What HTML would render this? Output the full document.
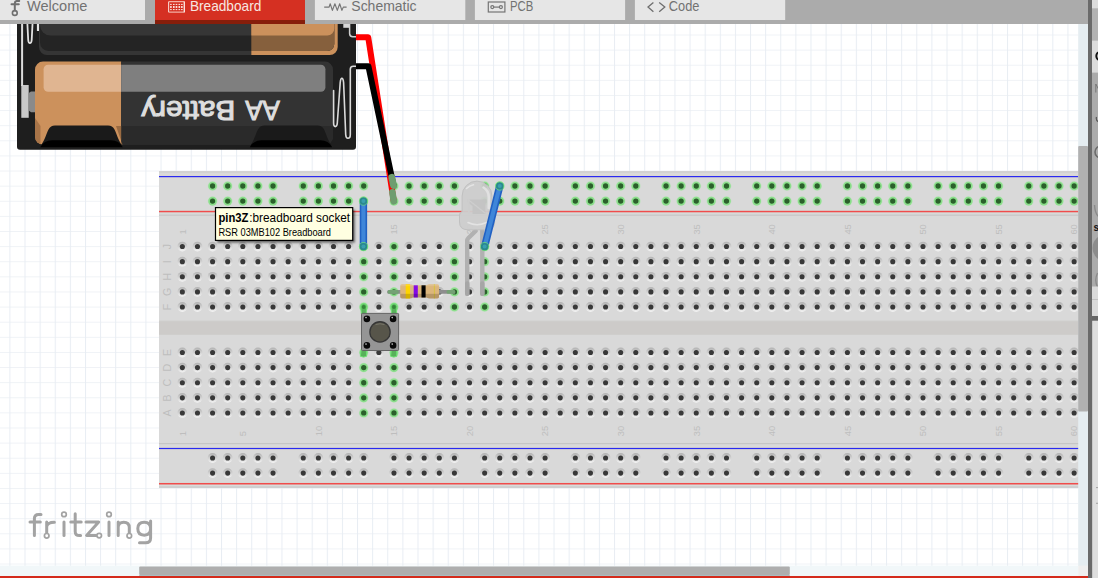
<!DOCTYPE html>
<html><head><meta charset="utf-8"><title>Fritzing</title>
<style>
html,body{margin:0;padding:0;}
body{width:1098px;height:578px;overflow:hidden;background:#fff;position:relative;font-family:"Liberation Sans",sans-serif;}
#canvas{position:absolute;left:0;top:0;width:1098px;height:578px;}
.abs{position:absolute;}
.tab{position:absolute;top:0;height:20px;background:#e6e6e6;color:#6e6e6e;font-size:13.5px;line-height:15px;white-space:nowrap;}
.tab span{position:absolute;top:-1px;}
#tip{position:absolute;left:215px;top:207px;width:136px;height:31.5px;border:1px solid #000;background:#ffffe1;box-shadow:1px 1px 1px rgba(0,0,0,.45);color:#000;white-space:nowrap;}
#tip .l1{position:absolute;left:2.4px;top:2px;font-size:11.6px;line-height:14px;letter-spacing:-0.1px;}
#tip .l2{position:absolute;left:2.4px;top:16.5px;font-size:9.6px;line-height:12px;}
</style></head><body>

<svg id="canvas" width="1098" height="578" viewBox="0 0 1098 578">
<defs>
<pattern id="grid" x="9.4" y="4.3" width="15.115" height="15.115" patternUnits="userSpaceOnUse"><path d="M0 0.5H15.115" stroke="#eff2f6" stroke-width="1" fill="none"/><path d="M0.5 0V15.115" stroke="#e8edf3" stroke-width="1" fill="none"/></pattern>
<linearGradient id="ring" x1="0" y1="0" x2="0" y2="1"><stop offset="0" stop-color="#b2b2b2"/><stop offset="0.5" stop-color="#d2d2d2"/><stop offset="1" stop-color="#f4f4f4"/></linearGradient>
<g id="h"><circle r="4.9" fill="url(#ring)"/><circle r="2.55" fill="#383838"/></g>
<g id="g"><circle r="4.9" fill="#c3dfc3"/><circle r="4.3" fill="#8ade8a"/><circle r="2.65" fill="#2b602b"/></g>
</defs>
<rect x="0" y="24" width="1078.2" height="542" fill="#fff"/>
<rect x="0" y="24" width="1078.2" height="542" fill="url(#grid)"/>
<g id="bb">
<rect x="159" y="171" width="925" height="317" fill="#d9d9d9"/>
<rect x="159" y="171" width="925" height="2" fill="#d2d2d2"/>
<rect x="159" y="486" width="925" height="2" fill="#cfcfcf"/>
<rect x="159" y="320.4" width="925" height="1" fill="#d3d2d1"/><rect x="159" y="321.2" width="925" height="13.6" fill="#cdcbc9"/>
<rect x="159" y="214.6" width="925" height="1.2" fill="#c6c6c6"/>
<rect x="159" y="443" width="925" height="1.2" fill="#c6c6c6"/>
<rect x="159" y="174.9" width="925" height="3.2" fill="#e4e2d5"/>
<rect x="159" y="446.9" width="925" height="3.2" fill="#e4e2d5"/>
<rect x="159" y="209.8" width="925" height="3.4" fill="#d6dedb"/>
<rect x="159" y="482" width="925" height="3.4" fill="#d6dedb"/>
<rect x="159" y="175.95" width="925" height="1.3" fill="#2a2af0"/>
<rect x="159" y="210.8" width="925" height="1.5" fill="#f04c4c"/>
<rect x="159" y="447.85" width="925" height="1.3" fill="#2a2af0"/>
<rect x="159" y="482.95" width="925" height="1.55" fill="#f04c4c"/>
<use href="#h" x="182.35" y="246.55"/>
<use href="#h" x="182.35" y="261.67"/>
<use href="#h" x="182.35" y="276.78"/>
<use href="#h" x="182.35" y="291.89"/>
<use href="#h" x="182.35" y="307.01"/>
<use href="#h" x="182.35" y="352.50"/>
<use href="#h" x="182.35" y="367.62"/>
<use href="#h" x="182.35" y="382.73"/>
<use href="#h" x="182.35" y="397.85"/>
<use href="#h" x="182.35" y="412.96"/>
<use href="#h" x="197.47" y="246.55"/>
<use href="#h" x="197.47" y="261.67"/>
<use href="#h" x="197.47" y="276.78"/>
<use href="#h" x="197.47" y="291.89"/>
<use href="#h" x="197.47" y="307.01"/>
<use href="#h" x="197.47" y="352.50"/>
<use href="#h" x="197.47" y="367.62"/>
<use href="#h" x="197.47" y="382.73"/>
<use href="#h" x="197.47" y="397.85"/>
<use href="#h" x="197.47" y="412.96"/>
<use href="#h" x="212.58" y="246.55"/>
<use href="#h" x="212.58" y="261.67"/>
<use href="#h" x="212.58" y="276.78"/>
<use href="#h" x="212.58" y="291.89"/>
<use href="#h" x="212.58" y="307.01"/>
<use href="#h" x="212.58" y="352.50"/>
<use href="#h" x="212.58" y="367.62"/>
<use href="#h" x="212.58" y="382.73"/>
<use href="#h" x="212.58" y="397.85"/>
<use href="#h" x="212.58" y="412.96"/>
<use href="#h" x="227.69" y="246.55"/>
<use href="#h" x="227.69" y="261.67"/>
<use href="#h" x="227.69" y="276.78"/>
<use href="#h" x="227.69" y="291.89"/>
<use href="#h" x="227.69" y="307.01"/>
<use href="#h" x="227.69" y="352.50"/>
<use href="#h" x="227.69" y="367.62"/>
<use href="#h" x="227.69" y="382.73"/>
<use href="#h" x="227.69" y="397.85"/>
<use href="#h" x="227.69" y="412.96"/>
<use href="#h" x="242.81" y="246.55"/>
<use href="#h" x="242.81" y="261.67"/>
<use href="#h" x="242.81" y="276.78"/>
<use href="#h" x="242.81" y="291.89"/>
<use href="#h" x="242.81" y="307.01"/>
<use href="#h" x="242.81" y="352.50"/>
<use href="#h" x="242.81" y="367.62"/>
<use href="#h" x="242.81" y="382.73"/>
<use href="#h" x="242.81" y="397.85"/>
<use href="#h" x="242.81" y="412.96"/>
<use href="#h" x="257.93" y="246.55"/>
<use href="#h" x="257.93" y="261.67"/>
<use href="#h" x="257.93" y="276.78"/>
<use href="#h" x="257.93" y="291.89"/>
<use href="#h" x="257.93" y="307.01"/>
<use href="#h" x="257.93" y="352.50"/>
<use href="#h" x="257.93" y="367.62"/>
<use href="#h" x="257.93" y="382.73"/>
<use href="#h" x="257.93" y="397.85"/>
<use href="#h" x="257.93" y="412.96"/>
<use href="#h" x="273.04" y="246.55"/>
<use href="#h" x="273.04" y="261.67"/>
<use href="#h" x="273.04" y="276.78"/>
<use href="#h" x="273.04" y="291.89"/>
<use href="#h" x="273.04" y="307.01"/>
<use href="#h" x="273.04" y="352.50"/>
<use href="#h" x="273.04" y="367.62"/>
<use href="#h" x="273.04" y="382.73"/>
<use href="#h" x="273.04" y="397.85"/>
<use href="#h" x="273.04" y="412.96"/>
<use href="#h" x="288.15" y="246.55"/>
<use href="#h" x="288.15" y="261.67"/>
<use href="#h" x="288.15" y="276.78"/>
<use href="#h" x="288.15" y="291.89"/>
<use href="#h" x="288.15" y="307.01"/>
<use href="#h" x="288.15" y="352.50"/>
<use href="#h" x="288.15" y="367.62"/>
<use href="#h" x="288.15" y="382.73"/>
<use href="#h" x="288.15" y="397.85"/>
<use href="#h" x="288.15" y="412.96"/>
<use href="#h" x="303.27" y="246.55"/>
<use href="#h" x="303.27" y="261.67"/>
<use href="#h" x="303.27" y="276.78"/>
<use href="#h" x="303.27" y="291.89"/>
<use href="#h" x="303.27" y="307.01"/>
<use href="#h" x="303.27" y="352.50"/>
<use href="#h" x="303.27" y="367.62"/>
<use href="#h" x="303.27" y="382.73"/>
<use href="#h" x="303.27" y="397.85"/>
<use href="#h" x="303.27" y="412.96"/>
<use href="#h" x="318.38" y="246.55"/>
<use href="#h" x="318.38" y="261.67"/>
<use href="#h" x="318.38" y="276.78"/>
<use href="#h" x="318.38" y="291.89"/>
<use href="#h" x="318.38" y="307.01"/>
<use href="#h" x="318.38" y="352.50"/>
<use href="#h" x="318.38" y="367.62"/>
<use href="#h" x="318.38" y="382.73"/>
<use href="#h" x="318.38" y="397.85"/>
<use href="#h" x="318.38" y="412.96"/>
<use href="#h" x="333.50" y="246.55"/>
<use href="#h" x="333.50" y="261.67"/>
<use href="#h" x="333.50" y="276.78"/>
<use href="#h" x="333.50" y="291.89"/>
<use href="#h" x="333.50" y="307.01"/>
<use href="#h" x="333.50" y="352.50"/>
<use href="#h" x="333.50" y="367.62"/>
<use href="#h" x="333.50" y="382.73"/>
<use href="#h" x="333.50" y="397.85"/>
<use href="#h" x="333.50" y="412.96"/>
<use href="#h" x="348.62" y="246.55"/>
<use href="#h" x="348.62" y="261.67"/>
<use href="#h" x="348.62" y="276.78"/>
<use href="#h" x="348.62" y="291.89"/>
<use href="#h" x="348.62" y="307.01"/>
<use href="#h" x="348.62" y="352.50"/>
<use href="#h" x="348.62" y="367.62"/>
<use href="#h" x="348.62" y="382.73"/>
<use href="#h" x="348.62" y="397.85"/>
<use href="#h" x="348.62" y="412.96"/>
<use href="#g" x="363.73" y="246.55"/>
<use href="#g" x="363.73" y="261.67"/>
<use href="#g" x="363.73" y="276.78"/>
<use href="#g" x="363.73" y="291.89"/>
<use href="#g" x="363.73" y="307.01"/>
<use href="#g" x="363.73" y="352.50"/>
<use href="#g" x="363.73" y="367.62"/>
<use href="#g" x="363.73" y="382.73"/>
<use href="#g" x="363.73" y="397.85"/>
<use href="#g" x="363.73" y="412.96"/>
<use href="#h" x="378.85" y="246.55"/>
<use href="#h" x="378.85" y="261.67"/>
<use href="#h" x="378.85" y="276.78"/>
<use href="#h" x="378.85" y="291.89"/>
<use href="#h" x="378.85" y="307.01"/>
<use href="#h" x="378.85" y="352.50"/>
<use href="#h" x="378.85" y="367.62"/>
<use href="#h" x="378.85" y="382.73"/>
<use href="#h" x="378.85" y="397.85"/>
<use href="#h" x="378.85" y="412.96"/>
<use href="#g" x="393.96" y="246.55"/>
<use href="#g" x="393.96" y="261.67"/>
<use href="#g" x="393.96" y="276.78"/>
<use href="#g" x="393.96" y="291.89"/>
<use href="#g" x="393.96" y="307.01"/>
<use href="#g" x="393.96" y="352.50"/>
<use href="#g" x="393.96" y="367.62"/>
<use href="#g" x="393.96" y="382.73"/>
<use href="#g" x="393.96" y="397.85"/>
<use href="#g" x="393.96" y="412.96"/>
<use href="#h" x="409.07" y="246.55"/>
<use href="#h" x="409.07" y="261.67"/>
<use href="#h" x="409.07" y="276.78"/>
<use href="#h" x="409.07" y="291.89"/>
<use href="#h" x="409.07" y="307.01"/>
<use href="#h" x="409.07" y="352.50"/>
<use href="#h" x="409.07" y="367.62"/>
<use href="#h" x="409.07" y="382.73"/>
<use href="#h" x="409.07" y="397.85"/>
<use href="#h" x="409.07" y="412.96"/>
<use href="#h" x="424.19" y="246.55"/>
<use href="#h" x="424.19" y="261.67"/>
<use href="#h" x="424.19" y="276.78"/>
<use href="#h" x="424.19" y="291.89"/>
<use href="#h" x="424.19" y="307.01"/>
<use href="#h" x="424.19" y="352.50"/>
<use href="#h" x="424.19" y="367.62"/>
<use href="#h" x="424.19" y="382.73"/>
<use href="#h" x="424.19" y="397.85"/>
<use href="#h" x="424.19" y="412.96"/>
<use href="#h" x="439.30" y="246.55"/>
<use href="#h" x="439.30" y="261.67"/>
<use href="#h" x="439.30" y="276.78"/>
<use href="#h" x="439.30" y="291.89"/>
<use href="#h" x="439.30" y="307.01"/>
<use href="#h" x="439.30" y="352.50"/>
<use href="#h" x="439.30" y="367.62"/>
<use href="#h" x="439.30" y="382.73"/>
<use href="#h" x="439.30" y="397.85"/>
<use href="#h" x="439.30" y="412.96"/>
<use href="#g" x="454.42" y="246.55"/>
<use href="#g" x="454.42" y="261.67"/>
<use href="#g" x="454.42" y="276.78"/>
<use href="#g" x="454.42" y="291.89"/>
<use href="#g" x="454.42" y="307.01"/>
<use href="#h" x="454.42" y="352.50"/>
<use href="#h" x="454.42" y="367.62"/>
<use href="#h" x="454.42" y="382.73"/>
<use href="#h" x="454.42" y="397.85"/>
<use href="#h" x="454.42" y="412.96"/>
<use href="#h" x="469.53" y="246.55"/>
<use href="#h" x="469.53" y="261.67"/>
<use href="#h" x="469.53" y="276.78"/>
<use href="#h" x="469.53" y="291.89"/>
<use href="#h" x="469.53" y="307.01"/>
<use href="#h" x="469.53" y="352.50"/>
<use href="#h" x="469.53" y="367.62"/>
<use href="#h" x="469.53" y="382.73"/>
<use href="#h" x="469.53" y="397.85"/>
<use href="#h" x="469.53" y="412.96"/>
<use href="#g" x="484.65" y="246.55"/>
<use href="#g" x="484.65" y="261.67"/>
<use href="#g" x="484.65" y="276.78"/>
<use href="#g" x="484.65" y="291.89"/>
<use href="#g" x="484.65" y="307.01"/>
<use href="#h" x="484.65" y="352.50"/>
<use href="#h" x="484.65" y="367.62"/>
<use href="#h" x="484.65" y="382.73"/>
<use href="#h" x="484.65" y="397.85"/>
<use href="#h" x="484.65" y="412.96"/>
<use href="#h" x="499.76" y="246.55"/>
<use href="#h" x="499.76" y="261.67"/>
<use href="#h" x="499.76" y="276.78"/>
<use href="#h" x="499.76" y="291.89"/>
<use href="#h" x="499.76" y="307.01"/>
<use href="#h" x="499.76" y="352.50"/>
<use href="#h" x="499.76" y="367.62"/>
<use href="#h" x="499.76" y="382.73"/>
<use href="#h" x="499.76" y="397.85"/>
<use href="#h" x="499.76" y="412.96"/>
<use href="#h" x="514.88" y="246.55"/>
<use href="#h" x="514.88" y="261.67"/>
<use href="#h" x="514.88" y="276.78"/>
<use href="#h" x="514.88" y="291.89"/>
<use href="#h" x="514.88" y="307.01"/>
<use href="#h" x="514.88" y="352.50"/>
<use href="#h" x="514.88" y="367.62"/>
<use href="#h" x="514.88" y="382.73"/>
<use href="#h" x="514.88" y="397.85"/>
<use href="#h" x="514.88" y="412.96"/>
<use href="#h" x="530.00" y="246.55"/>
<use href="#h" x="530.00" y="261.67"/>
<use href="#h" x="530.00" y="276.78"/>
<use href="#h" x="530.00" y="291.89"/>
<use href="#h" x="530.00" y="307.01"/>
<use href="#h" x="530.00" y="352.50"/>
<use href="#h" x="530.00" y="367.62"/>
<use href="#h" x="530.00" y="382.73"/>
<use href="#h" x="530.00" y="397.85"/>
<use href="#h" x="530.00" y="412.96"/>
<use href="#h" x="545.11" y="246.55"/>
<use href="#h" x="545.11" y="261.67"/>
<use href="#h" x="545.11" y="276.78"/>
<use href="#h" x="545.11" y="291.89"/>
<use href="#h" x="545.11" y="307.01"/>
<use href="#h" x="545.11" y="352.50"/>
<use href="#h" x="545.11" y="367.62"/>
<use href="#h" x="545.11" y="382.73"/>
<use href="#h" x="545.11" y="397.85"/>
<use href="#h" x="545.11" y="412.96"/>
<use href="#h" x="560.23" y="246.55"/>
<use href="#h" x="560.23" y="261.67"/>
<use href="#h" x="560.23" y="276.78"/>
<use href="#h" x="560.23" y="291.89"/>
<use href="#h" x="560.23" y="307.01"/>
<use href="#h" x="560.23" y="352.50"/>
<use href="#h" x="560.23" y="367.62"/>
<use href="#h" x="560.23" y="382.73"/>
<use href="#h" x="560.23" y="397.85"/>
<use href="#h" x="560.23" y="412.96"/>
<use href="#h" x="575.34" y="246.55"/>
<use href="#h" x="575.34" y="261.67"/>
<use href="#h" x="575.34" y="276.78"/>
<use href="#h" x="575.34" y="291.89"/>
<use href="#h" x="575.34" y="307.01"/>
<use href="#h" x="575.34" y="352.50"/>
<use href="#h" x="575.34" y="367.62"/>
<use href="#h" x="575.34" y="382.73"/>
<use href="#h" x="575.34" y="397.85"/>
<use href="#h" x="575.34" y="412.96"/>
<use href="#h" x="590.46" y="246.55"/>
<use href="#h" x="590.46" y="261.67"/>
<use href="#h" x="590.46" y="276.78"/>
<use href="#h" x="590.46" y="291.89"/>
<use href="#h" x="590.46" y="307.01"/>
<use href="#h" x="590.46" y="352.50"/>
<use href="#h" x="590.46" y="367.62"/>
<use href="#h" x="590.46" y="382.73"/>
<use href="#h" x="590.46" y="397.85"/>
<use href="#h" x="590.46" y="412.96"/>
<use href="#h" x="605.57" y="246.55"/>
<use href="#h" x="605.57" y="261.67"/>
<use href="#h" x="605.57" y="276.78"/>
<use href="#h" x="605.57" y="291.89"/>
<use href="#h" x="605.57" y="307.01"/>
<use href="#h" x="605.57" y="352.50"/>
<use href="#h" x="605.57" y="367.62"/>
<use href="#h" x="605.57" y="382.73"/>
<use href="#h" x="605.57" y="397.85"/>
<use href="#h" x="605.57" y="412.96"/>
<use href="#h" x="620.68" y="246.55"/>
<use href="#h" x="620.68" y="261.67"/>
<use href="#h" x="620.68" y="276.78"/>
<use href="#h" x="620.68" y="291.89"/>
<use href="#h" x="620.68" y="307.01"/>
<use href="#h" x="620.68" y="352.50"/>
<use href="#h" x="620.68" y="367.62"/>
<use href="#h" x="620.68" y="382.73"/>
<use href="#h" x="620.68" y="397.85"/>
<use href="#h" x="620.68" y="412.96"/>
<use href="#h" x="635.80" y="246.55"/>
<use href="#h" x="635.80" y="261.67"/>
<use href="#h" x="635.80" y="276.78"/>
<use href="#h" x="635.80" y="291.89"/>
<use href="#h" x="635.80" y="307.01"/>
<use href="#h" x="635.80" y="352.50"/>
<use href="#h" x="635.80" y="367.62"/>
<use href="#h" x="635.80" y="382.73"/>
<use href="#h" x="635.80" y="397.85"/>
<use href="#h" x="635.80" y="412.96"/>
<use href="#h" x="650.91" y="246.55"/>
<use href="#h" x="650.91" y="261.67"/>
<use href="#h" x="650.91" y="276.78"/>
<use href="#h" x="650.91" y="291.89"/>
<use href="#h" x="650.91" y="307.01"/>
<use href="#h" x="650.91" y="352.50"/>
<use href="#h" x="650.91" y="367.62"/>
<use href="#h" x="650.91" y="382.73"/>
<use href="#h" x="650.91" y="397.85"/>
<use href="#h" x="650.91" y="412.96"/>
<use href="#h" x="666.03" y="246.55"/>
<use href="#h" x="666.03" y="261.67"/>
<use href="#h" x="666.03" y="276.78"/>
<use href="#h" x="666.03" y="291.89"/>
<use href="#h" x="666.03" y="307.01"/>
<use href="#h" x="666.03" y="352.50"/>
<use href="#h" x="666.03" y="367.62"/>
<use href="#h" x="666.03" y="382.73"/>
<use href="#h" x="666.03" y="397.85"/>
<use href="#h" x="666.03" y="412.96"/>
<use href="#h" x="681.14" y="246.55"/>
<use href="#h" x="681.14" y="261.67"/>
<use href="#h" x="681.14" y="276.78"/>
<use href="#h" x="681.14" y="291.89"/>
<use href="#h" x="681.14" y="307.01"/>
<use href="#h" x="681.14" y="352.50"/>
<use href="#h" x="681.14" y="367.62"/>
<use href="#h" x="681.14" y="382.73"/>
<use href="#h" x="681.14" y="397.85"/>
<use href="#h" x="681.14" y="412.96"/>
<use href="#h" x="696.26" y="246.55"/>
<use href="#h" x="696.26" y="261.67"/>
<use href="#h" x="696.26" y="276.78"/>
<use href="#h" x="696.26" y="291.89"/>
<use href="#h" x="696.26" y="307.01"/>
<use href="#h" x="696.26" y="352.50"/>
<use href="#h" x="696.26" y="367.62"/>
<use href="#h" x="696.26" y="382.73"/>
<use href="#h" x="696.26" y="397.85"/>
<use href="#h" x="696.26" y="412.96"/>
<use href="#h" x="711.38" y="246.55"/>
<use href="#h" x="711.38" y="261.67"/>
<use href="#h" x="711.38" y="276.78"/>
<use href="#h" x="711.38" y="291.89"/>
<use href="#h" x="711.38" y="307.01"/>
<use href="#h" x="711.38" y="352.50"/>
<use href="#h" x="711.38" y="367.62"/>
<use href="#h" x="711.38" y="382.73"/>
<use href="#h" x="711.38" y="397.85"/>
<use href="#h" x="711.38" y="412.96"/>
<use href="#h" x="726.49" y="246.55"/>
<use href="#h" x="726.49" y="261.67"/>
<use href="#h" x="726.49" y="276.78"/>
<use href="#h" x="726.49" y="291.89"/>
<use href="#h" x="726.49" y="307.01"/>
<use href="#h" x="726.49" y="352.50"/>
<use href="#h" x="726.49" y="367.62"/>
<use href="#h" x="726.49" y="382.73"/>
<use href="#h" x="726.49" y="397.85"/>
<use href="#h" x="726.49" y="412.96"/>
<use href="#h" x="741.61" y="246.55"/>
<use href="#h" x="741.61" y="261.67"/>
<use href="#h" x="741.61" y="276.78"/>
<use href="#h" x="741.61" y="291.89"/>
<use href="#h" x="741.61" y="307.01"/>
<use href="#h" x="741.61" y="352.50"/>
<use href="#h" x="741.61" y="367.62"/>
<use href="#h" x="741.61" y="382.73"/>
<use href="#h" x="741.61" y="397.85"/>
<use href="#h" x="741.61" y="412.96"/>
<use href="#h" x="756.72" y="246.55"/>
<use href="#h" x="756.72" y="261.67"/>
<use href="#h" x="756.72" y="276.78"/>
<use href="#h" x="756.72" y="291.89"/>
<use href="#h" x="756.72" y="307.01"/>
<use href="#h" x="756.72" y="352.50"/>
<use href="#h" x="756.72" y="367.62"/>
<use href="#h" x="756.72" y="382.73"/>
<use href="#h" x="756.72" y="397.85"/>
<use href="#h" x="756.72" y="412.96"/>
<use href="#h" x="771.84" y="246.55"/>
<use href="#h" x="771.84" y="261.67"/>
<use href="#h" x="771.84" y="276.78"/>
<use href="#h" x="771.84" y="291.89"/>
<use href="#h" x="771.84" y="307.01"/>
<use href="#h" x="771.84" y="352.50"/>
<use href="#h" x="771.84" y="367.62"/>
<use href="#h" x="771.84" y="382.73"/>
<use href="#h" x="771.84" y="397.85"/>
<use href="#h" x="771.84" y="412.96"/>
<use href="#h" x="786.95" y="246.55"/>
<use href="#h" x="786.95" y="261.67"/>
<use href="#h" x="786.95" y="276.78"/>
<use href="#h" x="786.95" y="291.89"/>
<use href="#h" x="786.95" y="307.01"/>
<use href="#h" x="786.95" y="352.50"/>
<use href="#h" x="786.95" y="367.62"/>
<use href="#h" x="786.95" y="382.73"/>
<use href="#h" x="786.95" y="397.85"/>
<use href="#h" x="786.95" y="412.96"/>
<use href="#h" x="802.07" y="246.55"/>
<use href="#h" x="802.07" y="261.67"/>
<use href="#h" x="802.07" y="276.78"/>
<use href="#h" x="802.07" y="291.89"/>
<use href="#h" x="802.07" y="307.01"/>
<use href="#h" x="802.07" y="352.50"/>
<use href="#h" x="802.07" y="367.62"/>
<use href="#h" x="802.07" y="382.73"/>
<use href="#h" x="802.07" y="397.85"/>
<use href="#h" x="802.07" y="412.96"/>
<use href="#h" x="817.18" y="246.55"/>
<use href="#h" x="817.18" y="261.67"/>
<use href="#h" x="817.18" y="276.78"/>
<use href="#h" x="817.18" y="291.89"/>
<use href="#h" x="817.18" y="307.01"/>
<use href="#h" x="817.18" y="352.50"/>
<use href="#h" x="817.18" y="367.62"/>
<use href="#h" x="817.18" y="382.73"/>
<use href="#h" x="817.18" y="397.85"/>
<use href="#h" x="817.18" y="412.96"/>
<use href="#h" x="832.30" y="246.55"/>
<use href="#h" x="832.30" y="261.67"/>
<use href="#h" x="832.30" y="276.78"/>
<use href="#h" x="832.30" y="291.89"/>
<use href="#h" x="832.30" y="307.01"/>
<use href="#h" x="832.30" y="352.50"/>
<use href="#h" x="832.30" y="367.62"/>
<use href="#h" x="832.30" y="382.73"/>
<use href="#h" x="832.30" y="397.85"/>
<use href="#h" x="832.30" y="412.96"/>
<use href="#h" x="847.41" y="246.55"/>
<use href="#h" x="847.41" y="261.67"/>
<use href="#h" x="847.41" y="276.78"/>
<use href="#h" x="847.41" y="291.89"/>
<use href="#h" x="847.41" y="307.01"/>
<use href="#h" x="847.41" y="352.50"/>
<use href="#h" x="847.41" y="367.62"/>
<use href="#h" x="847.41" y="382.73"/>
<use href="#h" x="847.41" y="397.85"/>
<use href="#h" x="847.41" y="412.96"/>
<use href="#h" x="862.52" y="246.55"/>
<use href="#h" x="862.52" y="261.67"/>
<use href="#h" x="862.52" y="276.78"/>
<use href="#h" x="862.52" y="291.89"/>
<use href="#h" x="862.52" y="307.01"/>
<use href="#h" x="862.52" y="352.50"/>
<use href="#h" x="862.52" y="367.62"/>
<use href="#h" x="862.52" y="382.73"/>
<use href="#h" x="862.52" y="397.85"/>
<use href="#h" x="862.52" y="412.96"/>
<use href="#h" x="877.64" y="246.55"/>
<use href="#h" x="877.64" y="261.67"/>
<use href="#h" x="877.64" y="276.78"/>
<use href="#h" x="877.64" y="291.89"/>
<use href="#h" x="877.64" y="307.01"/>
<use href="#h" x="877.64" y="352.50"/>
<use href="#h" x="877.64" y="367.62"/>
<use href="#h" x="877.64" y="382.73"/>
<use href="#h" x="877.64" y="397.85"/>
<use href="#h" x="877.64" y="412.96"/>
<use href="#h" x="892.75" y="246.55"/>
<use href="#h" x="892.75" y="261.67"/>
<use href="#h" x="892.75" y="276.78"/>
<use href="#h" x="892.75" y="291.89"/>
<use href="#h" x="892.75" y="307.01"/>
<use href="#h" x="892.75" y="352.50"/>
<use href="#h" x="892.75" y="367.62"/>
<use href="#h" x="892.75" y="382.73"/>
<use href="#h" x="892.75" y="397.85"/>
<use href="#h" x="892.75" y="412.96"/>
<use href="#h" x="907.87" y="246.55"/>
<use href="#h" x="907.87" y="261.67"/>
<use href="#h" x="907.87" y="276.78"/>
<use href="#h" x="907.87" y="291.89"/>
<use href="#h" x="907.87" y="307.01"/>
<use href="#h" x="907.87" y="352.50"/>
<use href="#h" x="907.87" y="367.62"/>
<use href="#h" x="907.87" y="382.73"/>
<use href="#h" x="907.87" y="397.85"/>
<use href="#h" x="907.87" y="412.96"/>
<use href="#h" x="922.99" y="246.55"/>
<use href="#h" x="922.99" y="261.67"/>
<use href="#h" x="922.99" y="276.78"/>
<use href="#h" x="922.99" y="291.89"/>
<use href="#h" x="922.99" y="307.01"/>
<use href="#h" x="922.99" y="352.50"/>
<use href="#h" x="922.99" y="367.62"/>
<use href="#h" x="922.99" y="382.73"/>
<use href="#h" x="922.99" y="397.85"/>
<use href="#h" x="922.99" y="412.96"/>
<use href="#h" x="938.10" y="246.55"/>
<use href="#h" x="938.10" y="261.67"/>
<use href="#h" x="938.10" y="276.78"/>
<use href="#h" x="938.10" y="291.89"/>
<use href="#h" x="938.10" y="307.01"/>
<use href="#h" x="938.10" y="352.50"/>
<use href="#h" x="938.10" y="367.62"/>
<use href="#h" x="938.10" y="382.73"/>
<use href="#h" x="938.10" y="397.85"/>
<use href="#h" x="938.10" y="412.96"/>
<use href="#h" x="953.22" y="246.55"/>
<use href="#h" x="953.22" y="261.67"/>
<use href="#h" x="953.22" y="276.78"/>
<use href="#h" x="953.22" y="291.89"/>
<use href="#h" x="953.22" y="307.01"/>
<use href="#h" x="953.22" y="352.50"/>
<use href="#h" x="953.22" y="367.62"/>
<use href="#h" x="953.22" y="382.73"/>
<use href="#h" x="953.22" y="397.85"/>
<use href="#h" x="953.22" y="412.96"/>
<use href="#h" x="968.33" y="246.55"/>
<use href="#h" x="968.33" y="261.67"/>
<use href="#h" x="968.33" y="276.78"/>
<use href="#h" x="968.33" y="291.89"/>
<use href="#h" x="968.33" y="307.01"/>
<use href="#h" x="968.33" y="352.50"/>
<use href="#h" x="968.33" y="367.62"/>
<use href="#h" x="968.33" y="382.73"/>
<use href="#h" x="968.33" y="397.85"/>
<use href="#h" x="968.33" y="412.96"/>
<use href="#h" x="983.45" y="246.55"/>
<use href="#h" x="983.45" y="261.67"/>
<use href="#h" x="983.45" y="276.78"/>
<use href="#h" x="983.45" y="291.89"/>
<use href="#h" x="983.45" y="307.01"/>
<use href="#h" x="983.45" y="352.50"/>
<use href="#h" x="983.45" y="367.62"/>
<use href="#h" x="983.45" y="382.73"/>
<use href="#h" x="983.45" y="397.85"/>
<use href="#h" x="983.45" y="412.96"/>
<use href="#h" x="998.56" y="246.55"/>
<use href="#h" x="998.56" y="261.67"/>
<use href="#h" x="998.56" y="276.78"/>
<use href="#h" x="998.56" y="291.89"/>
<use href="#h" x="998.56" y="307.01"/>
<use href="#h" x="998.56" y="352.50"/>
<use href="#h" x="998.56" y="367.62"/>
<use href="#h" x="998.56" y="382.73"/>
<use href="#h" x="998.56" y="397.85"/>
<use href="#h" x="998.56" y="412.96"/>
<use href="#h" x="1013.68" y="246.55"/>
<use href="#h" x="1013.68" y="261.67"/>
<use href="#h" x="1013.68" y="276.78"/>
<use href="#h" x="1013.68" y="291.89"/>
<use href="#h" x="1013.68" y="307.01"/>
<use href="#h" x="1013.68" y="352.50"/>
<use href="#h" x="1013.68" y="367.62"/>
<use href="#h" x="1013.68" y="382.73"/>
<use href="#h" x="1013.68" y="397.85"/>
<use href="#h" x="1013.68" y="412.96"/>
<use href="#h" x="1028.79" y="246.55"/>
<use href="#h" x="1028.79" y="261.67"/>
<use href="#h" x="1028.79" y="276.78"/>
<use href="#h" x="1028.79" y="291.89"/>
<use href="#h" x="1028.79" y="307.01"/>
<use href="#h" x="1028.79" y="352.50"/>
<use href="#h" x="1028.79" y="367.62"/>
<use href="#h" x="1028.79" y="382.73"/>
<use href="#h" x="1028.79" y="397.85"/>
<use href="#h" x="1028.79" y="412.96"/>
<use href="#h" x="1043.90" y="246.55"/>
<use href="#h" x="1043.90" y="261.67"/>
<use href="#h" x="1043.90" y="276.78"/>
<use href="#h" x="1043.90" y="291.89"/>
<use href="#h" x="1043.90" y="307.01"/>
<use href="#h" x="1043.90" y="352.50"/>
<use href="#h" x="1043.90" y="367.62"/>
<use href="#h" x="1043.90" y="382.73"/>
<use href="#h" x="1043.90" y="397.85"/>
<use href="#h" x="1043.90" y="412.96"/>
<use href="#h" x="1059.02" y="246.55"/>
<use href="#h" x="1059.02" y="261.67"/>
<use href="#h" x="1059.02" y="276.78"/>
<use href="#h" x="1059.02" y="291.89"/>
<use href="#h" x="1059.02" y="307.01"/>
<use href="#h" x="1059.02" y="352.50"/>
<use href="#h" x="1059.02" y="367.62"/>
<use href="#h" x="1059.02" y="382.73"/>
<use href="#h" x="1059.02" y="397.85"/>
<use href="#h" x="1059.02" y="412.96"/>
<use href="#h" x="1074.13" y="246.55"/>
<use href="#h" x="1074.13" y="261.67"/>
<use href="#h" x="1074.13" y="276.78"/>
<use href="#h" x="1074.13" y="291.89"/>
<use href="#h" x="1074.13" y="307.01"/>
<use href="#h" x="1074.13" y="352.50"/>
<use href="#h" x="1074.13" y="367.62"/>
<use href="#h" x="1074.13" y="382.73"/>
<use href="#h" x="1074.13" y="397.85"/>
<use href="#h" x="1074.13" y="412.96"/>
<use href="#g" x="212.58" y="186.00"/>
<use href="#g" x="212.58" y="201.10"/>
<use href="#h" x="212.58" y="458.00"/>
<use href="#h" x="212.58" y="473.10"/>
<use href="#g" x="227.69" y="186.00"/>
<use href="#g" x="227.69" y="201.10"/>
<use href="#h" x="227.69" y="458.00"/>
<use href="#h" x="227.69" y="473.10"/>
<use href="#g" x="242.81" y="186.00"/>
<use href="#g" x="242.81" y="201.10"/>
<use href="#h" x="242.81" y="458.00"/>
<use href="#h" x="242.81" y="473.10"/>
<use href="#g" x="257.93" y="186.00"/>
<use href="#g" x="257.93" y="201.10"/>
<use href="#h" x="257.93" y="458.00"/>
<use href="#h" x="257.93" y="473.10"/>
<use href="#g" x="273.04" y="186.00"/>
<use href="#g" x="273.04" y="201.10"/>
<use href="#h" x="273.04" y="458.00"/>
<use href="#h" x="273.04" y="473.10"/>
<use href="#g" x="303.27" y="186.00"/>
<use href="#g" x="303.27" y="201.10"/>
<use href="#h" x="303.27" y="458.00"/>
<use href="#h" x="303.27" y="473.10"/>
<use href="#g" x="318.38" y="186.00"/>
<use href="#g" x="318.38" y="201.10"/>
<use href="#h" x="318.38" y="458.00"/>
<use href="#h" x="318.38" y="473.10"/>
<use href="#g" x="333.50" y="186.00"/>
<use href="#g" x="333.50" y="201.10"/>
<use href="#h" x="333.50" y="458.00"/>
<use href="#h" x="333.50" y="473.10"/>
<use href="#g" x="348.62" y="186.00"/>
<use href="#g" x="348.62" y="201.10"/>
<use href="#h" x="348.62" y="458.00"/>
<use href="#h" x="348.62" y="473.10"/>
<use href="#g" x="363.73" y="186.00"/>
<use href="#g" x="363.73" y="201.10"/>
<use href="#h" x="363.73" y="458.00"/>
<use href="#h" x="363.73" y="473.10"/>
<use href="#g" x="393.96" y="186.00"/>
<use href="#g" x="393.96" y="201.10"/>
<use href="#h" x="393.96" y="458.00"/>
<use href="#h" x="393.96" y="473.10"/>
<use href="#g" x="409.07" y="186.00"/>
<use href="#g" x="409.07" y="201.10"/>
<use href="#h" x="409.07" y="458.00"/>
<use href="#h" x="409.07" y="473.10"/>
<use href="#g" x="424.19" y="186.00"/>
<use href="#g" x="424.19" y="201.10"/>
<use href="#h" x="424.19" y="458.00"/>
<use href="#h" x="424.19" y="473.10"/>
<use href="#g" x="439.30" y="186.00"/>
<use href="#g" x="439.30" y="201.10"/>
<use href="#h" x="439.30" y="458.00"/>
<use href="#h" x="439.30" y="473.10"/>
<use href="#g" x="454.42" y="186.00"/>
<use href="#g" x="454.42" y="201.10"/>
<use href="#h" x="454.42" y="458.00"/>
<use href="#h" x="454.42" y="473.10"/>
<use href="#g" x="484.65" y="186.00"/>
<use href="#g" x="484.65" y="201.10"/>
<use href="#h" x="484.65" y="458.00"/>
<use href="#h" x="484.65" y="473.10"/>
<use href="#g" x="499.76" y="186.00"/>
<use href="#g" x="499.76" y="201.10"/>
<use href="#h" x="499.76" y="458.00"/>
<use href="#h" x="499.76" y="473.10"/>
<use href="#g" x="514.88" y="186.00"/>
<use href="#g" x="514.88" y="201.10"/>
<use href="#h" x="514.88" y="458.00"/>
<use href="#h" x="514.88" y="473.10"/>
<use href="#g" x="530.00" y="186.00"/>
<use href="#g" x="530.00" y="201.10"/>
<use href="#h" x="530.00" y="458.00"/>
<use href="#h" x="530.00" y="473.10"/>
<use href="#g" x="545.11" y="186.00"/>
<use href="#g" x="545.11" y="201.10"/>
<use href="#h" x="545.11" y="458.00"/>
<use href="#h" x="545.11" y="473.10"/>
<use href="#g" x="575.34" y="186.00"/>
<use href="#g" x="575.34" y="201.10"/>
<use href="#h" x="575.34" y="458.00"/>
<use href="#h" x="575.34" y="473.10"/>
<use href="#g" x="590.46" y="186.00"/>
<use href="#g" x="590.46" y="201.10"/>
<use href="#h" x="590.46" y="458.00"/>
<use href="#h" x="590.46" y="473.10"/>
<use href="#g" x="605.57" y="186.00"/>
<use href="#g" x="605.57" y="201.10"/>
<use href="#h" x="605.57" y="458.00"/>
<use href="#h" x="605.57" y="473.10"/>
<use href="#g" x="620.68" y="186.00"/>
<use href="#g" x="620.68" y="201.10"/>
<use href="#h" x="620.68" y="458.00"/>
<use href="#h" x="620.68" y="473.10"/>
<use href="#g" x="635.80" y="186.00"/>
<use href="#g" x="635.80" y="201.10"/>
<use href="#h" x="635.80" y="458.00"/>
<use href="#h" x="635.80" y="473.10"/>
<use href="#g" x="666.03" y="186.00"/>
<use href="#g" x="666.03" y="201.10"/>
<use href="#h" x="666.03" y="458.00"/>
<use href="#h" x="666.03" y="473.10"/>
<use href="#g" x="681.14" y="186.00"/>
<use href="#g" x="681.14" y="201.10"/>
<use href="#h" x="681.14" y="458.00"/>
<use href="#h" x="681.14" y="473.10"/>
<use href="#g" x="696.26" y="186.00"/>
<use href="#g" x="696.26" y="201.10"/>
<use href="#h" x="696.26" y="458.00"/>
<use href="#h" x="696.26" y="473.10"/>
<use href="#g" x="711.38" y="186.00"/>
<use href="#g" x="711.38" y="201.10"/>
<use href="#h" x="711.38" y="458.00"/>
<use href="#h" x="711.38" y="473.10"/>
<use href="#g" x="726.49" y="186.00"/>
<use href="#g" x="726.49" y="201.10"/>
<use href="#h" x="726.49" y="458.00"/>
<use href="#h" x="726.49" y="473.10"/>
<use href="#g" x="756.72" y="186.00"/>
<use href="#g" x="756.72" y="201.10"/>
<use href="#h" x="756.72" y="458.00"/>
<use href="#h" x="756.72" y="473.10"/>
<use href="#g" x="771.84" y="186.00"/>
<use href="#g" x="771.84" y="201.10"/>
<use href="#h" x="771.84" y="458.00"/>
<use href="#h" x="771.84" y="473.10"/>
<use href="#g" x="786.95" y="186.00"/>
<use href="#g" x="786.95" y="201.10"/>
<use href="#h" x="786.95" y="458.00"/>
<use href="#h" x="786.95" y="473.10"/>
<use href="#g" x="802.07" y="186.00"/>
<use href="#g" x="802.07" y="201.10"/>
<use href="#h" x="802.07" y="458.00"/>
<use href="#h" x="802.07" y="473.10"/>
<use href="#g" x="817.18" y="186.00"/>
<use href="#g" x="817.18" y="201.10"/>
<use href="#h" x="817.18" y="458.00"/>
<use href="#h" x="817.18" y="473.10"/>
<use href="#g" x="847.41" y="186.00"/>
<use href="#g" x="847.41" y="201.10"/>
<use href="#h" x="847.41" y="458.00"/>
<use href="#h" x="847.41" y="473.10"/>
<use href="#g" x="862.52" y="186.00"/>
<use href="#g" x="862.52" y="201.10"/>
<use href="#h" x="862.52" y="458.00"/>
<use href="#h" x="862.52" y="473.10"/>
<use href="#g" x="877.64" y="186.00"/>
<use href="#g" x="877.64" y="201.10"/>
<use href="#h" x="877.64" y="458.00"/>
<use href="#h" x="877.64" y="473.10"/>
<use href="#g" x="892.75" y="186.00"/>
<use href="#g" x="892.75" y="201.10"/>
<use href="#h" x="892.75" y="458.00"/>
<use href="#h" x="892.75" y="473.10"/>
<use href="#g" x="907.87" y="186.00"/>
<use href="#g" x="907.87" y="201.10"/>
<use href="#h" x="907.87" y="458.00"/>
<use href="#h" x="907.87" y="473.10"/>
<use href="#g" x="938.10" y="186.00"/>
<use href="#g" x="938.10" y="201.10"/>
<use href="#h" x="938.10" y="458.00"/>
<use href="#h" x="938.10" y="473.10"/>
<use href="#g" x="953.22" y="186.00"/>
<use href="#g" x="953.22" y="201.10"/>
<use href="#h" x="953.22" y="458.00"/>
<use href="#h" x="953.22" y="473.10"/>
<use href="#g" x="968.33" y="186.00"/>
<use href="#g" x="968.33" y="201.10"/>
<use href="#h" x="968.33" y="458.00"/>
<use href="#h" x="968.33" y="473.10"/>
<use href="#g" x="983.45" y="186.00"/>
<use href="#g" x="983.45" y="201.10"/>
<use href="#h" x="983.45" y="458.00"/>
<use href="#h" x="983.45" y="473.10"/>
<use href="#g" x="998.56" y="186.00"/>
<use href="#g" x="998.56" y="201.10"/>
<use href="#h" x="998.56" y="458.00"/>
<use href="#h" x="998.56" y="473.10"/>
<use href="#g" x="1028.79" y="186.00"/>
<use href="#g" x="1028.79" y="201.10"/>
<use href="#h" x="1028.79" y="458.00"/>
<use href="#h" x="1028.79" y="473.10"/>
<use href="#g" x="1043.90" y="186.00"/>
<use href="#g" x="1043.90" y="201.10"/>
<use href="#h" x="1043.90" y="458.00"/>
<use href="#h" x="1043.90" y="473.10"/>
<use href="#g" x="1059.02" y="186.00"/>
<use href="#g" x="1059.02" y="201.10"/>
<use href="#h" x="1059.02" y="458.00"/>
<use href="#h" x="1059.02" y="473.10"/>
<use href="#g" x="1074.13" y="186.00"/>
<use href="#g" x="1074.13" y="201.10"/>
<use href="#h" x="1074.13" y="458.00"/>
<use href="#h" x="1074.13" y="473.10"/>
<use href="#g" x="1089.25" y="186.00"/>
<use href="#g" x="1089.25" y="201.10"/>
<use href="#h" x="1089.25" y="458.00"/>
<use href="#h" x="1089.25" y="473.10"/>
<g font-family="Liberation Sans, sans-serif" font-size="9.3" fill="#bebebe" text-anchor="middle">
<text text-anchor="start" transform="translate(185.65,234.6) rotate(-90)">1</text>
<text text-anchor="start" transform="translate(185.65,436.2) rotate(-90)">1</text>
<text text-anchor="start" transform="translate(246.11,234.6) rotate(-90)">5</text>
<text text-anchor="start" transform="translate(246.11,436.2) rotate(-90)">5</text>
<text text-anchor="start" transform="translate(321.69,234.6) rotate(-90)">10</text>
<text text-anchor="start" transform="translate(321.69,436.2) rotate(-90)">10</text>
<text text-anchor="start" transform="translate(397.26,234.6) rotate(-90)">15</text>
<text text-anchor="start" transform="translate(397.26,436.2) rotate(-90)">15</text>
<text text-anchor="start" transform="translate(472.83,234.6) rotate(-90)">20</text>
<text text-anchor="start" transform="translate(472.83,436.2) rotate(-90)">20</text>
<text text-anchor="start" transform="translate(548.41,234.6) rotate(-90)">25</text>
<text text-anchor="start" transform="translate(548.41,436.2) rotate(-90)">25</text>
<text text-anchor="start" transform="translate(623.98,234.6) rotate(-90)">30</text>
<text text-anchor="start" transform="translate(623.98,436.2) rotate(-90)">30</text>
<text text-anchor="start" transform="translate(699.56,234.6) rotate(-90)">35</text>
<text text-anchor="start" transform="translate(699.56,436.2) rotate(-90)">35</text>
<text text-anchor="start" transform="translate(775.13,234.6) rotate(-90)">40</text>
<text text-anchor="start" transform="translate(775.13,436.2) rotate(-90)">40</text>
<text text-anchor="start" transform="translate(850.71,234.6) rotate(-90)">45</text>
<text text-anchor="start" transform="translate(850.71,436.2) rotate(-90)">45</text>
<text text-anchor="start" transform="translate(926.28,234.6) rotate(-90)">50</text>
<text text-anchor="start" transform="translate(926.28,436.2) rotate(-90)">50</text>
<text text-anchor="start" transform="translate(1001.86,234.6) rotate(-90)">55</text>
<text text-anchor="start" transform="translate(1001.86,436.2) rotate(-90)">55</text>
<text text-anchor="start" transform="translate(1077.43,234.6) rotate(-90)">60</text>
<text text-anchor="start" transform="translate(1077.43,436.2) rotate(-90)">60</text>
<text font-size="10.6" transform="translate(171,246.55) rotate(-90)">J</text>
<text font-size="10.6" transform="translate(171,261.67) rotate(-90)">I</text>
<text font-size="10.6" transform="translate(171,276.78) rotate(-90)">H</text>
<text font-size="10.6" transform="translate(171,291.89) rotate(-90)">G</text>
<text font-size="10.6" transform="translate(171,307.01) rotate(-90)">F</text>
<text font-size="10.6" transform="translate(171,352.50) rotate(-90)">E</text>
<text font-size="10.6" transform="translate(171,367.62) rotate(-90)">D</text>
<text font-size="10.6" transform="translate(171,382.73) rotate(-90)">C</text>
<text font-size="10.6" transform="translate(171,397.85) rotate(-90)">B</text>
<text font-size="10.6" transform="translate(171,412.96) rotate(-90)">A</text>
</g>
</g>
<g id="battery">
<path d="M17 20H356V146.7a3 3 0 0 1-3 3H20a3 3 0 0 1-3-3Z" fill="#1e1e1e"/>
<clipPath id="tb"><path d="M39 20H337.7V47a8 8 0 0 1-8 8H47a8 8 0 0 1-8-8Z"/></clipPath>
<g clip-path="url(#tb)">
<rect x="39" y="20" width="212.3" height="36" fill="#353535"/>
<rect x="251.3" y="20" width="87" height="36" fill="#cc915c"/>
<path d="M40 20H334.3V44a7 7 0 0 1-7 7H48.5a8.5 8.5 0 0 1-8.5-8.5Z" fill="#242424"/>
<path d="M251.3 20H334.3V44a7 7 0 0 1-7 7H251.3Z" fill="#86603d"/>
<path d="M40 20H251.3V35.6H50.5a10.5 10.5 0 0 1-10.5-10.5Z" fill="#363636"/>
<path d="M251.3 20H334.3V28.6a7 7 0 0 1-7 7H251.3Z" fill="#cc915c"/>
</g>
<clipPath id="bbat"><rect x="35" y="61.6" width="298" height="83" rx="8" ry="8"/></clipPath>
<g clip-path="url(#bbat)">
<rect x="35" y="61" width="86.2" height="85" fill="#cc915c"/>
<rect x="121.2" y="61" width="213" height="85" fill="#333"/>
<rect x="121.2" y="126" width="213" height="20" fill="#2a2a2a"/>
<path d="M35 118L40.5 126V146H35Z" fill="#a87448"/>
<path d="M116 126H121.2V146H123Z" fill="#9a6b42"/>
</g>
<clipPath id="hl"><rect x="43.6" y="64.8" width="281.8" height="27" rx="4.5" ry="4.5"/></clipPath>
<g clip-path="url(#hl)"><rect x="40" y="60" width="81.2" height="40" fill="#e0b591"/><rect x="121.2" y="60" width="210" height="40" fill="#7f7f7f"/></g>
<path d="M40.3 146.5C45 140 46.5 133 48.5 129.5Q50.5 125.6 55 125.6H108Q112.5 125.6 114.5 129.5C116.5 133 118 140 122.7 146.5Z" fill="#1a1a1a"/>
<path d="M40.3 147.2Q44 140.3 52 140.3H111Q119 140.3 122.7 147.2Z" fill="#000"/>
<path d="M249.8 146.5C254.5 140 256 133 258 129.5Q260 125.6 264.5 125.6H317.5Q322 125.6 324 129.5C326 133 327.5 140 332.2 146.5Z" fill="#1a1a1a"/>
<path d="M249.8 147.2Q253.5 140.3 261.5 140.3H320.5Q328.5 140.3 332.2 147.2Z" fill="#000"/>
<rect x="21.3" y="85" width="7.4" height="32.8" fill="#c9c9c9"/>
<path d="M28.7 93L31 91.4H35V112.2H31L28.7 110.6Z" fill="#8a8a8a"/>
<rect x="21.1" y="20" width="2" height="66" fill="#dcdcdc"/>
<path d="M27.2 20L28.2 40Q28.5 43.2 29.95 43.2Q31.4 43.2 31.7 40L32.7 20" fill="none" stroke="#e2e2e2" stroke-width="1.8"/>
<rect x="36.9" y="20" width="2.1" height="11" fill="#e6e6e6"/>
<path d="M356 66.2H353.2Q350.3 66.2 350.3 69.2V134.5Q350.3 138.3 348 138.3Q345.9 138.3 345.7 134.5L343.6 82.5Q343.2 78.2 341.9 78.2Q340.6 78.2 340.2 82.5L337.3 123Q337 126.6 335.3 126.6Q333.6 126.6 333.6 123V90.5" fill="none" stroke="#dadada" stroke-width="1.6" stroke-linecap="round"/>
<path d="M356 36.8H352.8Q349.6 36.8 349.6 33.6V20" fill="none" stroke="#cfcfcf" stroke-width="1.5"/>
<rect x="343.3" y="23.5" width="6.3" height="4.3" fill="#d8d8d8"/>
<g font-family="Liberation Sans, sans-serif" font-size="27" fill="#dedede" stroke="#dedede" stroke-width="1.05" text-anchor="middle">
<text transform="translate(188.3,100.9) rotate(180)" textLength="94" lengthAdjust="spacingAndGlyphs">Battery</text>
<text transform="translate(262.6,100.9) rotate(180)" textLength="34.4" lengthAdjust="spacingAndGlyphs">AA</text>
</g>
</g>
<g fill="none" stroke-linejoin="round">
<path d="M356 37.3H368.2L393.8 201.3" stroke="#ff0000" stroke-width="6"/>
<path d="M356 66.2H368.4L393.6 185.8" stroke="#000" stroke-width="6"/>
<path d="M392.4 192.3L393.8 201.3" stroke="#6e9d6f" stroke-width="6.6" stroke-linecap="round"/>
<path d="M391.8 177.3L393.5 185.6" stroke="#6e9d6f" stroke-width="6.8" stroke-linecap="round"/>
</g>
<path d="M360.83 306.6A2.9 2.9 0 0 1 366.63 306.6L366.13 314H361.33Z" fill="#58b15a" stroke="#6fe273" stroke-width="1"/>
<circle cx="363.73" cy="307" r="1.9" fill="#2f7f33" opacity="0.85"/>
<path d="M361.13 350.5H366.33L366.63 356.2Q363.73 358 360.33 356.2Z" fill="#58b15a" stroke="#6fe273" stroke-width="1"/>
<path d="M391.06 306.6A2.9 2.9 0 0 1 396.86 306.6L396.36 314H391.56Z" fill="#58b15a" stroke="#6fe273" stroke-width="1"/>
<circle cx="393.96" cy="307" r="1.9" fill="#2f7f33" opacity="0.85"/>
<path d="M391.36 350.5H396.56L396.86 356.2Q393.96 358 390.56 356.2Z" fill="#58b15a" stroke="#6fe273" stroke-width="1"/>
<rect x="361.5" y="313.4" width="37.1" height="37.1" rx="0.8" fill="#959595" stroke="#646464" stroke-width="1"/>
<circle cx="380" cy="331.9" r="10.8" fill="#363636"/>
<circle cx="380" cy="331.9" r="9.5" fill="#57554a"/>
<path d="M375.5 324.6Q380 322.9 384.5 324.6" stroke="#8a887c" stroke-width="0.6" fill="none"/>
<circle cx="366.9" cy="318.9" r="3.3" fill="#080808"/><circle cx="366.0" cy="317.59999999999997" r="0.8" fill="#d0d0d0"/>
<circle cx="393.1" cy="318.9" r="3.3" fill="#080808"/><circle cx="392.20000000000005" cy="317.59999999999997" r="0.8" fill="#d0d0d0"/>
<circle cx="366.9" cy="345.4" r="3.3" fill="#080808"/><circle cx="366.0" cy="344.09999999999997" r="0.8" fill="#d0d0d0"/>
<circle cx="393.1" cy="345.4" r="3.3" fill="#080808"/><circle cx="392.20000000000005" cy="344.09999999999997" r="0.8" fill="#d0d0d0"/>
<path d="M388.96 291.89H453.42" stroke="#8e8e8e" stroke-width="3.8" stroke-linecap="round" fill="none"/>
<path d="M389.46 291.89H396.96" stroke="#74a274" stroke-width="3.8" stroke-linecap="round" fill="none"/>
<path d="M448.42 291.89H453.42" stroke="#74a274" stroke-width="3.8" stroke-linecap="round" fill="none"/>
<clipPath id="rb"><path d="M402 284.2H409.5Q411.5 284.2 413 285.2H426.5Q428 284.2 430 284.2H437.3Q439.1 284.2 439.1 286V296.8Q439.1 298.6 437.3 298.6H430Q428 298.6 426.5 297.6H413Q411.5 298.6 409.5 298.6H402Q400.2 298.6 400.2 296.8V286Q400.2 284.2 402 284.2Z"/></clipPath>
<g clip-path="url(#rb)">
<rect x="400" y="284" width="40" height="15" fill="#dcb67c"/>
<rect x="405.7" y="284" width="4.3" height="15" fill="#ffd400"/>
<rect x="413.7" y="284" width="4.1" height="15" fill="#8408e6"/>
<rect x="421.5" y="284" width="4.1" height="15" fill="#000"/>
<rect x="433.9" y="284" width="0.9" height="15" fill="#d8c33a"/>
<rect x="400" y="293.8" width="40" height="6" fill="#000" opacity="0.17"/>
<rect x="400" y="284" width="40" height="2.2" fill="#fff" opacity="0.13"/>
</g>
<path d="M475.6 231L468.4 238Q467.2 239.2 467.2 241V293.8" stroke="#b1b1b1" stroke-width="4.4" stroke-linecap="round" fill="none"/>
<path d="M482.3 229V293.8" stroke="#b1b1b1" stroke-width="4.4" stroke-linecap="round" fill="none"/>
<path d="M467.2 283.5V293.8M482.3 283.5V293.8" stroke="#a6a6a6" stroke-width="4.4" stroke-linecap="round" fill="none"/>
<path d="M469.2 233.4Q466.6 232.6 467.3 230.6Q468.2 229.3 470 230.2" stroke="#c6c6c6" stroke-width="0.9" fill="none"/>
<path d="M462.1 196A14.9 14.9 0 0 1 491.9 196V211.5Q494.6 212.5 494.6 215V222Q494.6 229.8 486 229.8H468Q459.5 229.8 459.5 222V215Q459.5 212.5 462.1 211.5Z" fill="#cdcdcd" fill-opacity="0.94" stroke="#c0c0c0" stroke-width="1"/>
<path d="M467.8 199.5H485.3V214H472.5V206L467.8 202.5Z" fill="#c3c3c3" opacity="0.9"/>
<path d="M468.8 199.8V214" stroke="#cdcdcd" stroke-width="1.6" fill="none"/>
<path d="M468 199.5L485 213" stroke="#cecece" stroke-width="1.2" fill="none"/>
<path d="M483.5 187.5Q488.6 190.5 488.8 197V208" stroke="#e1e1e1" stroke-width="2.6" stroke-linecap="round" fill="none"/>
<path d="M466.5 188.5Q469.5 185.6 473.5 184.8" stroke="#e4e4e4" stroke-width="1.6" stroke-linecap="round" fill="none"/>
<path d="M468 222.5Q477 226.8 486.5 222.5" stroke="#e3e3e3" stroke-width="1.5" stroke-linecap="round" fill="none"/>
<path d="M363.43 201.10L363.43 246.55" stroke="#2161c3" stroke-width="7.4" stroke-linecap="round" fill="none"/>
<path d="M363.43 201.10L363.43 246.55" stroke="#3f86d9" stroke-width="4.2" stroke-linecap="round" fill="none"/>
<circle cx="363.43" cy="201.10" r="4.05" fill="none" stroke="#66dc70" stroke-width="0.9"/>
<circle cx="363.43" cy="201.10" r="3.6" fill="#2b8a8c"/>
<circle cx="363.43" cy="201.10" r="2.0" fill="#3a9fb0"/>
<circle cx="363.43" cy="246.55" r="4.05" fill="none" stroke="#66dc70" stroke-width="0.9"/>
<circle cx="363.43" cy="246.55" r="3.6" fill="#2b8a8c"/>
<circle cx="363.43" cy="246.55" r="2.0" fill="#3a9fb0"/>
<path d="M499.76 186.00L484.65 246.55" stroke="#2161c3" stroke-width="7.4" stroke-linecap="round" fill="none"/>
<path d="M499.76 186.00L484.65 246.55" stroke="#3f86d9" stroke-width="4.2" stroke-linecap="round" fill="none"/>
<circle cx="499.76" cy="186.00" r="4.05" fill="none" stroke="#66dc70" stroke-width="0.9"/>
<circle cx="499.76" cy="186.00" r="3.6" fill="#2b8a8c"/>
<circle cx="499.76" cy="186.00" r="2.0" fill="#3a9fb0"/>
<circle cx="484.65" cy="246.55" r="4.05" fill="none" stroke="#66dc70" stroke-width="0.9"/>
<circle cx="484.65" cy="246.55" r="3.6" fill="#2b8a8c"/>
<circle cx="484.65" cy="246.55" r="2.0" fill="#3a9fb0"/>
<g fill="none" stroke="#a3a3a3" stroke-width="3" stroke-linecap="round" stroke-linejoin="round">
<path d="M41 514.4H38.6Q34.4 514.4 34.4 518.6V535.6M30 522.1H40.3"/>
<path d="M46.7 522V533.2M46.7 526.5Q47.5 522.2 54.4 522.2"/>
<path d="M64 522V535.6"/>
<path d="M75.2 513.8V531.5Q75.2 535.6 79.4 535.6H80.6M70.8 522.1H81.2"/>
<path d="M86 522.1H98.7L86.6 535.4H96.6"/>
<path d="M109 522V535.6"/>
<path d="M118.2 522V535.6M118.2 527Q118.6 522.2 123.7 522.2Q129.3 522.2 129.3 527.5V533.2"/>
<path d="M150.6 521V538Q150.6 542.8 145.5 542.8H139.5M150.6 528.6Q150.6 522.2 144.2 522.2Q137.8 522.2 137.8 528.6Q137.8 535.2 144.2 535.2Q150.6 535.2 150.6 528.6"/>
</g>
<g fill="#fff" stroke="#a3a3a3" stroke-width="1.7">
<circle cx="46.7" cy="535.8" r="2.3"/>
<circle cx="64" cy="514.4" r="2.3"/>
<circle cx="99.2" cy="535.6" r="2.3"/>
<circle cx="109" cy="514.4" r="2.3"/>
<circle cx="129.3" cy="535.8" r="2.3"/>
</g>
<defs><filter id="sh" x="-10%" y="-20%" width="125%" height="150%"><feGaussianBlur stdDeviation="1.1"/></filter></defs>
<rect x="217.2" y="209.6" width="137.6" height="33" fill="#000" opacity="0.55" filter="url(#sh)"/>
<rect x="215.5" y="207.6" width="137.2" height="32.8" fill="#ffffe1" stroke="#000" stroke-width="1.2"/>
<g font-family="Liberation Sans, sans-serif" fill="#000">
<text x="218.4" y="221.9" font-size="12.4" font-weight="bold" textLength="30" lengthAdjust="spacingAndGlyphs">pin3Z</text>
<text x="249.3" y="221.9" font-size="12.4" textLength="100.8" lengthAdjust="spacingAndGlyphs">:breadboard socket</text>
<text x="218.4" y="235.7" font-size="10.6" textLength="112.6" lengthAdjust="spacingAndGlyphs">RSR 03MB102 Breadboard</text>
</g>
<rect x="1078.2" y="24" width="9.8" height="542" fill="#e5edf1"/>
<rect x="1078.2" y="146" width="9.8" height="265.4" rx="1" fill="#b1b1b1"/>
<rect x="0" y="565.6" width="1078.2" height="10.4" fill="#f1f7f9"/>
<rect x="1078.2" y="565.6" width="9.8" height="10.4" fill="#efefef"/>
<rect x="139.2" y="566.4" width="650.6" height="8.7" rx="1" fill="#aeaeae"/>
<rect x="139.2" y="575" width="650.6" height="1" fill="#a9bcc0"/>
<rect x="0" y="576" width="1088" height="2" fill="#d42b1c"/>
<rect x="0" y="0" width="1088" height="24" fill="#ababab"/>
<rect x="0" y="0" width="145" height="20" fill="#e6e6e6"/>
<text x="26.9" y="11.4" font-family="Liberation Sans, sans-serif" font-size="14.3" fill="#727272" textLength="60.5" lengthAdjust="spacingAndGlyphs">Welcome</text>
<rect x="155" y="0" width="150" height="20" fill="#d53022"/>
<rect x="155" y="20" width="150" height="4" fill="#871e0b"/>
<text x="189.9" y="11.4" font-family="Liberation Sans, sans-serif" font-size="14.3" fill="#f7e6e0" textLength="71.4" lengthAdjust="spacingAndGlyphs">Breadboard</text>
<rect x="314.9" y="0" width="150.4" height="20" fill="#e6e6e6"/>
<text x="351.3" y="11.4" font-family="Liberation Sans, sans-serif" font-size="14.3" fill="#727272" textLength="65.3" lengthAdjust="spacingAndGlyphs">Schematic</text>
<rect x="474.9" y="0" width="150.2" height="20" fill="#e6e6e6"/>
<text x="509.9" y="11.4" font-family="Liberation Sans, sans-serif" font-size="14.3" fill="#727272" textLength="23.3" lengthAdjust="spacingAndGlyphs">PCB</text>
<rect x="634.9" y="0" width="150.3" height="20" fill="#e6e6e6"/>
<text x="668.8" y="11.4" font-family="Liberation Sans, sans-serif" font-size="14.3" fill="#727272" textLength="30.6" lengthAdjust="spacingAndGlyphs">Code</text>
<g fill="none" stroke="#707070" stroke-width="2" stroke-linecap="round">
<path d="M19.2 0.9H17.4Q14.8 0.9 14.8 3.2V10.2M11.5 4.3H18.8"/><circle cx="14.8" cy="13" r="2.4" stroke-width="1.6"/>
</g>
<rect x="168.6" y="1.7" width="15.8" height="10.5" rx="0.8" fill="none" stroke="#f2aea4" stroke-width="1.2"/>
<rect x="183.7" y="1.6" width="1.2" height="10.7" fill="#fbe9e5"/>
<rect x="168.1" y="2" width="0.9" height="10" fill="#f6cdc6"/>
<rect x="170.10" y="3.9" width="1.6" height="1" fill="#fdf1ee"/><rect x="170.10" y="6.1" width="1.6" height="1.8" fill="#fdf1ee"/><rect x="170.10" y="9.1" width="1.6" height="1" fill="#fdf1ee"/>
<rect x="173.00" y="3.9" width="1.6" height="1" fill="#fdf1ee"/><rect x="173.00" y="6.1" width="1.6" height="1.8" fill="#fdf1ee"/><rect x="173.00" y="9.1" width="1.6" height="1" fill="#fdf1ee"/>
<rect x="175.70" y="3.9" width="1.6" height="1" fill="#fdf1ee"/><rect x="175.70" y="6.1" width="1.6" height="1.8" fill="#fdf1ee"/><rect x="175.70" y="9.1" width="1.6" height="1" fill="#fdf1ee"/>
<rect x="178.50" y="3.9" width="1.6" height="1" fill="#fdf1ee"/><rect x="178.50" y="6.1" width="1.6" height="1.8" fill="#fdf1ee"/><rect x="178.50" y="9.1" width="1.6" height="1" fill="#fdf1ee"/>
<rect x="181.05" y="3.9" width="1.6" height="1" fill="#fdf1ee"/><rect x="181.05" y="6.1" width="1.6" height="1.8" fill="#fdf1ee"/><rect x="181.05" y="9.1" width="1.6" height="1" fill="#fdf1ee"/>
<path d="M324.2 7.1H329.1L330.2 3.8L332.4 10.4L334.9 3.8L337.3 10.4L339.7 3.8L341.9 10.4L343.3 7.1H346.6" fill="none" stroke="#757575" stroke-width="1.15" stroke-linejoin="round"/>
<g fill="none" stroke="#757575" stroke-width="1.2"><rect x="488.3" y="2" width="16.6" height="10"/><circle cx="492.3" cy="7.1" r="1.5"/><circle cx="500.9" cy="7.1" r="1.5"/><path d="M493.8 7.1H499.4"/></g>
<path d="M653.4 2.4L648 7.1L653.4 11.8M659.2 2.4L664.8 7.1L659.2 11.8" fill="none" stroke="#6e6e6e" stroke-width="1.3"/>
<rect x="1088" y="0" width="4" height="578" fill="#6a6a6a"/>
<rect x="1092" y="0" width="6" height="578" fill="#ababab"/>
<rect x="1092" y="0" width="6" height="8.6" fill="#dcdcdc"/>
<rect x="1092" y="8.6" width="6" height="32" fill="#b2b2b2"/>
<rect x="1092" y="40.6" width="6" height="32" fill="#dcdcdc"/>
<circle cx="1100.5" cy="56" r="4.2" fill="none" stroke="#111" stroke-width="2"/>
<path d="M1095.8 84V92.5M1095.8 84L1099 90" stroke="#777" stroke-width="1" fill="none"/>
<path d="M1096.5 117Q1095.5 120.5 1099 122" stroke="#555" stroke-width="1.2" fill="none"/>
<circle cx="1101" cy="152" r="6" fill="none" stroke="#6a6a6a" stroke-width="1.6"/>
<path d="M1094.5 205Q1095 214 1099 217" stroke="#8a8a8a" stroke-width="1.4" fill="none"/>
<text x="1093.5" y="230.5" font-family="Liberation Sans, sans-serif" font-weight="bold" font-size="10" fill="#111">s</text>
<circle cx="1106" cy="248" r="13.5" fill="#8c8c8c"/>
<path d="M1097.5 273Q1094 280 1097.5 287" stroke="#8a8a8a" stroke-width="1.3" fill="none"/>
<rect x="1092" y="286.5" width="6" height="30" fill="#dadada"/>
<rect x="1092" y="299" width="6" height="0.8" fill="#bbb"/>
<rect x="1092" y="316" width="6" height="4.8" fill="#666"/>
<rect x="1092.4" y="320.8" width="5.6" height="258" fill="#dedede"/>
<rect x="1096" y="487.2" width="2" height="0.9" fill="#9a9a9a"/><rect x="1096" y="502.8" width="2" height="0.9" fill="#9a9a9a"/>
</svg>
</body></html>
